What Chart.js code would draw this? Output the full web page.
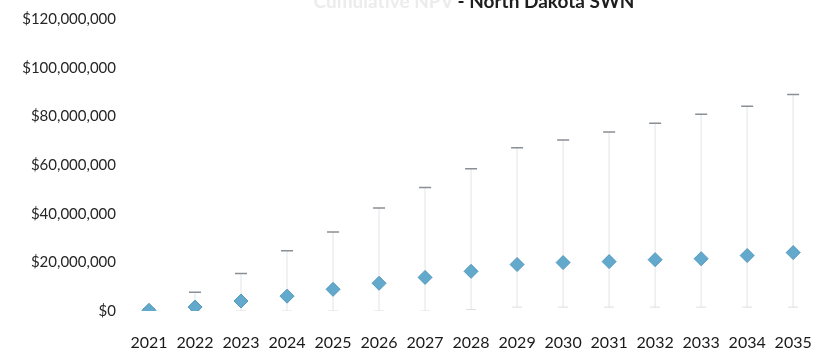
<!DOCTYPE html>
<html>
<head>
<meta charset="utf-8">
<script src="https://cdn.jsdelivr.net/npm/chart.js@4.4.0/dist/chart.umd.min.js"></script>
<style>
    body { margin: 0; background: #ffffff; }
    #wrap { position: relative; width: 834px; height: 362px; overflow: hidden; }
    #title {
        position: absolute;
        top: -9px;
        left: 474px;
        transform: translateX(-50%);
        white-space: nowrap;
        font: bold 19px Lato, sans-serif;
        line-height: 1;
        color: #1e1e1e;
    }
    #title .faint { color: #ececec; }
</style>
</head>
<body>
<div id="wrap">
    <canvas id="chart" width="834" height="362"></canvas>
    <div id="title"><span class="faint">Cumulative NPV</span> - North Dakota SWN</div>
</div>
<script>
// Years on the x axis
const years = ['2021', '2022', '2023', '2024', '2025', '2026', '2027', '2028',
               '2029', '2030', '2031', '2032', '2033', '2034', '2035'];

// Central estimate per year (diamonds)
const meanValues = [300000, 1600000, 4100000, 6100000, 8900000, 11400000, 13800000, 16300000,
                    19100000, 19900000, 20300000, 21100000, 21500000, 22800000, 24000000];

// Upper end of the range (top caps)
const maxValues = [800000, 7700000, 15400000, 24800000, 32500000, 42300000, 50800000, 58500000,
                   67100000, 70300000, 73600000, 77200000, 80900000, 84100000, 89000000];

// Lower end of the range (bottom caps)
const minValues = [0, 0, 0, 0, 0, 0, 0, 600000,
                   1600000, 1600000, 1600000, 1600000, 1600000, 1600000, 1600000];

// Y axis tick values
const yTicks = [0, 20000000, 40000000, 60000000, 80000000, 100000000, 120000000];

const ctx = document.getElementById('chart').getContext('2d');

new Chart(ctx, {
    data: {
        labels: years,
        datasets: [
            {
                type: 'line',
                label: 'Estimate',
                data: meanValues,
                showLine: false,
                pointStyle: 'rectRot',
                pointRadius: 7,
                pointBackgroundColor: '#62a9cc',
                pointBorderColor: '#5298be',
                pointBorderWidth: 1,
                order: 0
            },
            {
                type: 'line',
                label: 'High',
                data: maxValues,
                showLine: false,
                pointStyle: 'line',
                pointRadius: 6,
                pointBorderColor: '#8a8f95',
                pointBorderWidth: 1.5,
                order: 1
            },
            {
                type: 'line',
                label: 'Low',
                data: minValues,
                showLine: false,
                pointStyle: 'line',
                pointRadius: 5,
                pointBorderColor: '#dcdee0',
                pointBorderWidth: 1,
                order: 1
            },
            {
                type: 'bar',
                label: 'Range',
                data: minValues.map((m, i) => [m, maxValues[i]]),
                backgroundColor: '#eeeff0',
                barThickness: 1,
                order: 2
            }
        ]
    },
    options: {
        responsive: false,
        animation: false,
        layout: {
            padding: { top: 17, right: 2, bottom: 9, left: 0 }
        },
        plugins: {
            legend: { display: false },
            tooltip: { enabled: false },
            title: { display: false }
        },
        scales: {
            x: {
                type: 'category',
                offset: true,
                grid: { display: false, drawTicks: false },
                border: { display: false },
                afterFit: (scale) => {
                    scale.height = 42;
                },
                ticks: {
                    color: '#1a1a1a',
                    padding: 22,
                    maxRotation: 0,
                    font: { family: 'Lato', size: 16 }
                }
            },
            y: {
                min: 0,
                max: 120000000,
                grid: { display: false, drawTicks: false },
                border: { display: false },
                afterBuildTicks: (scale) => {
                    scale.ticks = yTicks.map(v => ({ value: v }));
                },
                afterFit: (scale) => {
                    scale.width = 126;
                },
                ticks: {
                    color: '#262626',
                    padding: 10,
                    font: { family: 'Lato', size: 15 },
                    callback: (value) => '$' + Number(value).toLocaleString('en-US')
                }
            }
        }
    }
});
</script>
</body>
</html>
